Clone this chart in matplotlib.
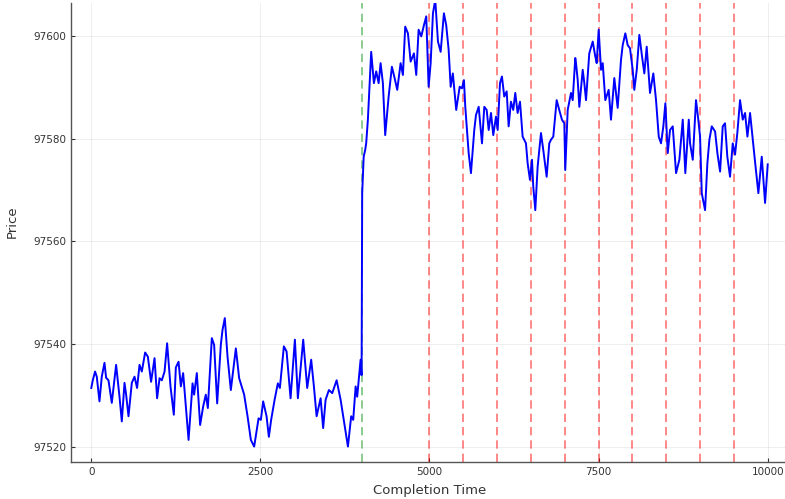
import matplotlib
matplotlib.use('Agg')
import matplotlib.pyplot as plt

plt.rcParams['font.family'] = ['DejaVu Sans']

# trade completion time and price
time = [0, 22, 56, 81, 121, 155, 195, 219, 254, 303, 367, 417, 451, 491, 515, 550,
        599, 639, 677, 713, 747, 796, 836, 884, 935, 973, 1009, 1043, 1083, 1121, 1171,
        1220, 1250, 1290, 1324, 1358, 1438, 1497, 1520, 1560, 1609, 1654, 1693, 1723,
        1782, 1816, 1861, 1915, 1940, 1974, 2014, 2063, 2137, 2186, 2260, 2310, 2359,
        2408, 2473, 2507, 2541, 2591, 2625, 2659, 2710, 2758, 2788, 2847, 2887, 2946,
        3010, 3054, 3133, 3192, 3251, 3291, 3331, 3390, 3428, 3464, 3513, 3562, 3627,
        3686, 3745, 3794, 3842, 3872, 3908, 3931, 3981, 3996, 4005, 4027, 4049, 4064,
        4089, 4115, 4138, 4178, 4212, 4248, 4277, 4311, 4345, 4396, 4444, 4484, 4523,
        4573, 4607, 4641, 4681, 4721, 4770, 4804, 4839, 4878, 4918, 4952, 4987, 5017,
        5051, 5085, 5125, 5165, 5213, 5247, 5283, 5313, 5345, 5395, 5446, 5480, 5509,
        5529, 5579, 5613, 5662, 5687, 5727, 5776, 5810, 5845, 5875, 5909, 5943, 5983,
        6008, 6042, 6071, 6105, 6141, 6170, 6204, 6238, 6268, 6303, 6338, 6377, 6426,
        6451, 6485, 6515, 6534, 6564, 6599, 6648, 6682, 6732, 6771, 6796, 6830, 6880,
        6918, 6958, 6993, 7007, 7043, 7092, 7117, 7155, 7166, 7191, 7215, 7265, 7289,
        7314, 7362, 7413, 7451, 7472, 7501, 7536, 7561, 7599, 7649, 7683, 7732, 7782,
        7831, 7856, 7895, 7930, 7964, 8004, 8028, 8064, 8102, 8142, 8176, 8211, 8260,
        8309, 8349, 8389, 8423, 8457, 8487, 8522, 8556, 8596, 8645, 8694, 8744, 8782,
        8833, 8852, 8892, 8940, 8974, 9000, 9025, 9074, 9108, 9138, 9173, 9222, 9256,
        9296, 9335, 9369, 9403, 9443, 9483, 9517, 9551, 9591, 9631, 9665, 9700, 9739,
        9779, 9813, 9862, 9912, 9961, 9985, 10000]

price = [97531.5, 97533.0, 97534.7, 97533.7, 97528.9, 97533.7, 97536.4, 97533.5, 97533.0,
         97528.6, 97536.0, 97529.8, 97525.0, 97532.5, 97530.2, 97526.0, 97532.5, 97533.7,
         97531.5, 97536.0, 97534.7, 97538.4, 97537.6, 97532.7, 97537.3, 97529.5, 97533.4,
         97533.0, 97534.7, 97540.2, 97531.8, 97526.3, 97535.5, 97536.6, 97531.8, 97534.4,
         97521.4, 97532.4, 97530.2, 97534.4, 97524.3, 97527.9, 97530.2, 97527.6, 97541.2,
         97539.9, 97528.5, 97539.9, 97542.8, 97545.1, 97537.6, 97531.1, 97539.2, 97533.4,
         97530.2, 97526.0, 97521.4, 97520.1, 97525.6, 97525.3, 97528.9, 97526.0, 97522.0,
         97525.3, 97529.2, 97532.4, 97531.5, 97539.6, 97538.6, 97529.5, 97540.9, 97529.5,
         97540.9, 97531.5, 97537.0, 97531.8, 97526.0, 97529.5, 97523.7, 97529.2, 97531.1,
         97530.5, 97533.0, 97529.2, 97524.3, 97520.1, 97526.0, 97525.3, 97531.8, 97529.8,
         97537.0, 97534.0, 97569.4, 97576.5, 97577.8, 97579.1, 97583.7, 97590.8, 97596.9,
         97590.8, 97593.1, 97590.8, 97594.7, 97590.8, 97580.7, 97588.2, 97594.0, 97591.8,
         97589.5, 97594.7, 97592.4, 97601.8, 97600.5, 97595.0, 97596.6, 97592.4, 97601.2,
         97599.9, 97602.1, 97603.8, 97590.1, 97594.7, 97604.4, 97607.0, 97598.9, 97596.9,
         97604.4, 97602.1, 97597.3, 97590.1, 97592.7, 97585.6, 97590.1, 97589.8, 97591.4,
         97586.2, 97577.2, 97573.3, 97581.7, 97584.6, 97586.2, 97579.1, 97586.2, 97585.6,
         97581.7, 97585.0, 97580.7, 97584.3, 97581.7, 97590.8, 97592.1, 97588.2, 97589.2,
         97582.4, 97587.2, 97585.6, 97588.9, 97585.0, 97587.2, 97580.4, 97579.1, 97575.2,
         97572.0, 97575.9, 97570.7, 97566.1, 97574.6, 97581.1, 97577.8, 97572.6, 97579.1,
         97579.8, 97580.4, 97587.5, 97585.6, 97583.7, 97583.0, 97573.9, 97585.6, 97588.9,
         97587.5, 97595.7, 97594.7, 97591.4, 97586.2, 97593.4, 97590.8, 97587.5, 97596.6,
         97598.9, 97596.0, 97594.7, 97601.2, 97593.4, 97594.7, 97587.5, 97589.5, 97583.7,
         97591.8, 97586.0, 97595.3, 97598.2, 97600.5, 97598.2, 97597.6, 97593.4, 97589.5,
         97593.4, 97600.2, 97596.0, 97592.7, 97597.9, 97588.9, 97592.7, 97587.5, 97580.4,
         97579.1, 97582.4, 97586.9, 97577.2, 97581.7, 97582.4, 97573.3, 97575.9, 97583.7,
         97573.3, 97583.7, 97579.1, 97575.9, 97587.5, 97583.7, 97580.4, 97569.4, 97566.1,
         97575.2, 97579.8, 97582.4, 97581.4, 97577.2, 97573.6, 97582.4, 97583.0, 97576.5,
         97572.6, 97579.1, 97576.9, 97581.1, 97587.5, 97583.7, 97585.0, 97580.4, 97585.0,
         97579.8, 97575.5, 97569.4, 97576.5, 97567.5, 97572.0, 97575.0]

start_line = 4000
marker_lines = [5000, 5500, 6000, 6500, 7000, 7500, 8000, 8500, 9000, 9500]

x_ticks = [0, 2500, 5000, 7500, 10000]
y_ticks = [97520, 97540, 97560, 97580, 97600]

W, H = 785, 499
fig = plt.figure(figsize=(W / 100, H / 100), dpi=100)
ax = fig.add_axes([71 / W, 37 / H, 717 / W, 459 / H])

ax.plot(time, price, color='#0000ff', linewidth=1.4, zorder=3)

ax.axvline(start_line, color='#4caf50', alpha=0.75, linestyle=(0, (5, 3)), linewidth=1.2, zorder=2)
for t in marker_lines:
    ax.axvline(t, color='#ff0000', alpha=0.55, linestyle=(0, (5, 3)), linewidth=1.2, zorder=2)

ax.set_xlim(-300, 10300)
ax.set_ylim(97517.1, 97606.4)
ax.set_xticks(x_ticks)
ax.set_yticks(y_ticks)
ax.tick_params(direction='in', length=3, width=0.8, labelsize=7.5, colors='#333333')
ax.grid(True, color='#000000', alpha=0.08, linewidth=0.6)

for side in ['top', 'right']:
    ax.spines[side].set_visible(False)
for side in ['left', 'bottom']:
    ax.spines[side].set_color('#555555')
    ax.spines[side].set_linewidth(1.0)

ax.set_xlabel('Completion Time', fontsize=9.5, color='#333333', labelpad=5)
fig.text(12.5 / W, 1 - 222 / H, 'Price', rotation=90, fontsize=9.5, color='#333333',
         ha='center', va='center')

fig.savefig('out.png', dpi=100, facecolor='white')
